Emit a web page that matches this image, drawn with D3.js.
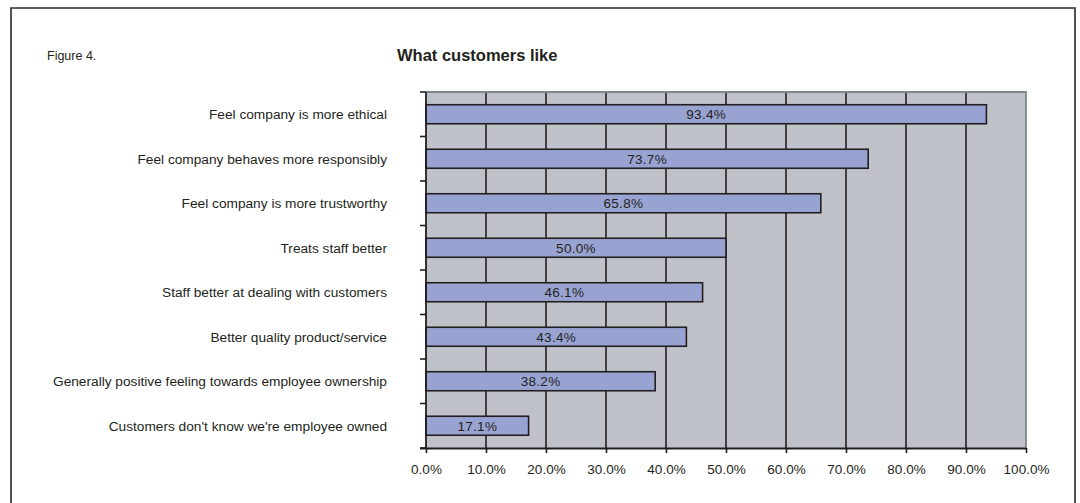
<!DOCTYPE html>
<html><head><meta charset="utf-8">
<script src="https://cdn.jsdelivr.net/npm/d3@7"></script>
<style>body{margin:0;background:#fff}svg{display:block}text{font-family:"Liberation Sans",Arial,sans-serif;fill:#231f20}</style>
</head><body><svg id="c" width="1080" height="503"></svg>
<script>
const categories = ["Feel company is more ethical","Feel company behaves more responsibly","Feel company is more trustworthy","Treats staff better ","Staff better at dealing with customers","Better quality product/service","Generally positive feeling towards employee ownership","Customers don't know we're employee owned"];
const values = [93.4,73.7,65.8,50.0,46.1,43.4,38.2,17.1];
const xTicks = [0,10,20,30,40,50,60,70,80,90,100];
const title = "What customers like";
const figLabel = "Figure 4.";

const svg = d3.select("#c");
svg.append("path").attr("d","M11,503 L11,8 L1075,8 L1075,503").attr("fill","none").attr("stroke","#2a2a2a").attr("stroke-width",1.6);

const m = {l:426, r:1026, t:92, b:448};
const x = d3.scaleLinear().domain([0,100]).range([m.l,m.r]);
const y = d3.scaleBand().domain(categories).range([m.t,m.b]).paddingInner(0).paddingOuter(0);

svg.append("rect").attr("x",m.l).attr("y",m.t).attr("width",m.r-m.l).attr("height",m.b-m.t).attr("fill","#c0c2ca");
svg.append("g").selectAll("line").data(xTicks.filter(d=>d>0&&d<100)).join("line")
 .attr("x1",d=>x(d)).attr("x2",d=>x(d)).attr("y1",m.t).attr("y2",m.b).attr("stroke","#231f20").attr("stroke-width",1.6);
svg.append("path").attr("d",`M${m.l},${m.t} L${m.r},${m.t} L${m.r},${m.b}`).attr("fill","none").attr("stroke","#7d868c").attr("stroke-width",1.8);

const bh = 19;
svg.append("g").selectAll("rect").data(values).join("rect")
 .attr("x",x(0)).attr("y",(d,i)=>y(categories[i])+y.bandwidth()/2-bh/2)
 .attr("width",d=>x(d)-x(0)).attr("height",bh)
 .attr("fill","#98a3d2").attr("stroke","#231f20").attr("stroke-width",1.6);
svg.append("g").selectAll("text").data(values).join("text")
 .attr("x",d=>(x(0)+x(d))/2).attr("y",(d,i)=>y(categories[i])+y.bandwidth()/2+5)
 .attr("text-anchor","middle").attr("font-size",13.5).attr("letter-spacing",0.3).text(d=>d.toFixed(1)+"%");

const xa = svg.append("g").attr("transform",`translate(0,${m.b})`)
 .call(d3.axisBottom(x).tickValues(xTicks).tickSize(5).tickSizeOuter(0).tickFormat(d=>d.toFixed(1)+"%"));
xa.select(".domain").attr("stroke","#231f20").attr("stroke-width",1.8).attr("d",`M${m.l-6},0.5H${m.r}`);
xa.selectAll(".tick line").attr("stroke","#231f20").attr("stroke-width",1.6);
xa.selectAll(".tick text").attr("font-size",13.5).attr("dy","1.3em").attr("fill","#231f20").style("font-family","Liberation Sans, Arial, sans-serif");

const ya = svg.append("g").attr("transform",`translate(${m.l},0)`);
ya.append("line").attr("x1",0).attr("x2",0).attr("y1",m.t).attr("y2",m.b).attr("stroke","#231f20").attr("stroke-width",1.8);
const bounds = categories.map(c=>y(c)).concat([m.b]);
ya.selectAll("line.t").data(bounds).join("line").attr("class","t")
 .attr("x1",-6).attr("x2",0).attr("y1",d=>d).attr("y2",d=>d).attr("stroke","#231f20").attr("stroke-width",1.6);
svg.append("g").selectAll("text").data(categories).join("text")
 .attr("x",387).attr("y",d=>y(d)+y.bandwidth()/2+5).attr("text-anchor","end").attr("font-size",13.7).text(d=>d);

svg.append("text").attr("x",397).attr("y",61).attr("font-size",16.5).attr("font-weight","bold").text(title);
svg.append("text").attr("x",47).attr("y",59.5).attr("font-size",12.5).text(figLabel);
</script></body></html>
